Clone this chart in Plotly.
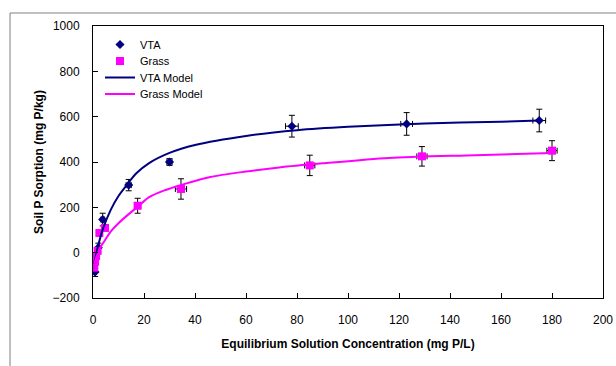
import plotly.graph_objects as go

vta_x = [0.8, 2.1, 3.8, 14, 30, 78, 123, 175]
vta_y = [-85, 22, 146, 298, 400, 558, 568, 583]
vta_ey = [20, 20, 28, 25, 15, 48, 50, 50]
vta_ex = [0.5, 0.5, 0.7, 1.0, 1.0, 2.5, 2.3, 2.5]

grass_x = [0.5, 0.8, 1.2, 1.8, 2.5, 4.7, 17.5, 34.5, 85, 129, 180]
grass_y = [-66, -40, -15, 8, 87, 109, 207, 281, 385, 425, 450]
grass_ey = [10, 10, 10, 10, 10, 12, 33, 45, 45, 43, 44]
grass_ex = [0.3, 0.3, 0.3, 0.3, 0.4, 0.6, 1.2, 2.2, 2.0, 2.0, 2.0]

# Model curves
vta_mx = [0, 1, 2, 4, 7, 10, 13, 17, 22, 30, 40, 60, 80, 100, 130, 160, 175]
vta_my = [-70, -20, 30, 108, 190, 250, 295, 350, 395, 440, 475, 515, 540, 555, 570, 578, 583]

grass_mx = [0, 1, 2, 3, 5, 7, 10, 14, 18, 22, 28, 35, 46, 60, 73, 90, 116, 150, 180]
grass_my = [-70, -30, 0, 25, 60, 94, 130, 170, 207, 245, 275, 300, 334, 358, 376, 394, 418, 430, 440]

x_ticks = [0, 20, 40, 60, 80, 100, 120, 140, 160, 180, 200]
y_ticks = [-200, 0, 200, 400, 600, 800, 1000]

NAVY = "#000080"
MAGENTA = "#FF00FF"
FONT = "Liberation Sans, Arial, sans-serif"

fig = go.Figure()
fig.add_trace(go.Scatter(
    x=vta_x, y=vta_y, mode="markers", name="VTA", legend="legend",
    marker=dict(symbol="diamond", color=NAVY, size=7),
    error_y=dict(type="data", array=vta_ey, color="black", thickness=1, width=3),
    error_x=dict(type="data", array=vta_ex, color="black", thickness=1, width=3),
))
fig.add_trace(go.Scatter(
    x=grass_x, y=grass_y, mode="markers", name="Grass", legend="legend2",
    marker=dict(symbol="square", color=MAGENTA, size=8),
    error_y=dict(type="data", array=grass_ey, color="black", thickness=1, width=3),
    error_x=dict(type="data", array=grass_ex, color="black", thickness=1, width=3),
))
fig.add_trace(go.Scatter(
    x=vta_mx, y=vta_my, mode="lines", name="VTA Model", legend="legend3",
    line=dict(color=NAVY, width=2, shape="spline", smoothing=0.8),
))
fig.add_trace(go.Scatter(
    x=grass_mx, y=grass_my, mode="lines", name="Grass Model", legend="legend4",
    line=dict(color=MAGENTA, width=2, shape="spline", smoothing=0.8),
))

axis_common = dict(
    showgrid=False, zeroline=False, showline=True, linecolor="black", linewidth=1,
    mirror=True, ticks="inside", ticklen=5, tickcolor="black", automargin=False,
    tickfont=dict(family=FONT, size=12, color="black"),
)

PLOT_L, PLOT_T, PLOT_W, PLOT_H = 93, 26, 510, 272


def legend_at(row_y):
    return dict(
        x=(100 - PLOT_L) / PLOT_W, y=1 - (row_y - PLOT_T) / PLOT_H,
        xanchor="left", yanchor="middle",
        bgcolor="rgba(0,0,0,0)", borderwidth=0,
        font=dict(family=FONT, size=11, color="black"),
    )


fig.update_layout(
    width=616, height=366,
    margin=dict(l=PLOT_L, r=616 - PLOT_L - PLOT_W, t=PLOT_T, b=366 - PLOT_T - PLOT_H),
    paper_bgcolor="white", plot_bgcolor="white",
    font=dict(family=FONT, size=12, color="black"),
    showlegend=True,
    legend=legend_at(44.5),
    legend2=legend_at(61),
    legend3=legend_at(77.5),
    legend4=legend_at(94),
    xaxis=dict(
        range=[0, 200], tickvals=x_ticks, ticklabelstandoff=11,
        title=dict(text="<b>Equilibrium Solution Concentration (mg P/L)</b>",
                   font=dict(family=FONT, size=12), standoff=13),
        **axis_common,
    ),
    yaxis=dict(
        range=[-200, 1000], tickvals=y_ticks, ticklabelstandoff=10,
        title=dict(text="<b>Soil P Sorption (mg P/kg)</b>",
                   font=dict(family=FONT, size=12), standoff=6),
        **axis_common,
    ),
)

# Outer chart-area border (extends past the right and bottom edges)
fig.add_shape(
    type="path", xref="paper", yref="paper",
    path="M 1.1 1.0478 L -0.1627 1.0478 L -0.1627 -0.3",
    line=dict(color="#808080", width=1),
)

fig.write_html(
    "out.html",
    config={"displayModeBar": False},
    post_script="document.body.style.margin='0';",
)
